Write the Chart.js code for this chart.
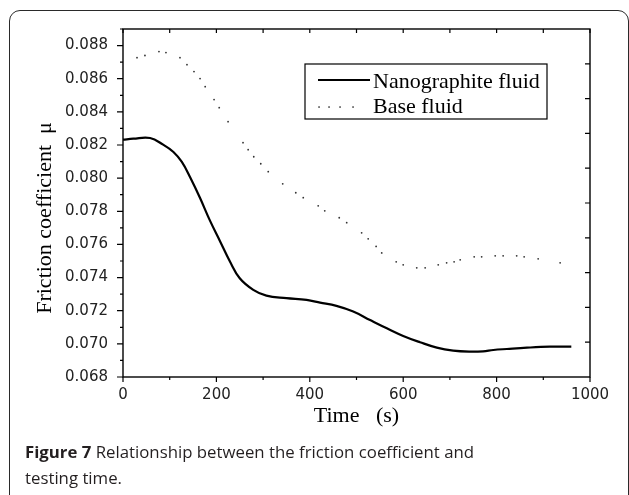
<!DOCTYPE html>
<html>
<head>
<meta charset="utf-8">
<script src="https://cdn.jsdelivr.net/npm/chart.js@4"></script>
<style>
  html, body { margin: 0; padding: 0; background: #fff; }
  body { width: 629px; height: 495px; position: relative; overflow: hidden; }
  #frame {
    position: absolute; left: 9px; top: 10px; width: 620px; height: 520px;
    border: 1.6px solid #2a2a2a; border-radius: 11px; box-sizing: border-box;
  }
  #wrap { position: absolute; left: 0; top: 0; width: 629px; height: 440px; }
  #caption {
    position: absolute; left: 25px; top: 439px; width: 470px;
    font-family: "Open Sans", sans-serif; font-size: 16.8px; line-height: 26px;
    color: #231f20;
  }
  #caption b { font-weight: 700; }
</style>
</head>
<body>
<div id="frame"></div>
<div id="wrap"><canvas id="frictionChart" width="629" height="440"></canvas></div>
<div id="caption"><b>Figure 7</b> Relationship between the friction coefficient and testing time.</div>
<script>
// time (s) / friction coefficient
const nanoTime = [0, 22, 58, 86, 108, 126, 144, 165, 186, 208, 229, 250, 279, 307, 350, 393, 422, 457, 493, 529, 565, 600, 636, 672, 707, 743, 771, 793, 822, 865, 914, 960];
const nanoMu = [0.08232, 0.08238, 0.08242, 0.08202, 0.08158, 0.08098, 0.08004, 0.0788, 0.07745, 0.07618, 0.07497, 0.07396, 0.07326, 0.07291, 0.07276, 0.07265, 0.07249, 0.07229, 0.07195, 0.07144, 0.07094, 0.07048, 0.0701, 0.06977, 0.06959, 0.06953, 0.06955, 0.06963, 0.06969, 0.06977, 0.06983, 0.06983];

const baseTime = [30, 47, 77, 92, 122, 137, 152, 165, 176, 195, 206, 225, 257, 268, 280, 295, 311, 342, 370, 386, 418, 432, 463, 479, 511, 525, 542, 554, 585, 600, 629, 647, 675, 693, 709, 722, 752, 768, 797, 814, 843, 859, 889, 936];
const baseMu = [0.08727, 0.0874, 0.08764, 0.08758, 0.08727, 0.08685, 0.08643, 0.08601, 0.08552, 0.08474, 0.08425, 0.08341, 0.08214, 0.08172, 0.08129, 0.08087, 0.08039, 0.07966, 0.07912, 0.07882, 0.07833, 0.07803, 0.07761, 0.07731, 0.0767, 0.07634, 0.07588, 0.07549, 0.07495, 0.07477, 0.07459, 0.07459, 0.07477, 0.07489, 0.07495, 0.07507, 0.07525, 0.07525, 0.07531, 0.07531, 0.07531, 0.07525, 0.07513, 0.07489];

const seriesLabels = ['Nanographite fluid', 'Base fluid'];
const xTitle = 'Time   (s)';
const yTitle = 'Friction coefficient  \u03bc';

const serif = '"Liberation Serif", "Times New Roman", serif';

// axis box, minor ticks, y title and the boxed legend
const frame = {
  id: 'frame',
  afterDraw(chart) {
    const {ctx, chartArea: a, scales: {x, y}} = chart;
    ctx.save();
    ctx.strokeStyle = '#000';
    ctx.lineWidth = 1.4;
    ctx.strokeRect(a.left, a.top, a.right - a.left, a.bottom - a.top);

    ctx.lineWidth = 1.2;
    ctx.beginPath();
    for (let t = 0; t <= 1000; t += 100) {
      const px = x.getPixelForValue(t);
      const len = t % 200 === 0 ? 5 : 3;
      ctx.moveTo(px, a.bottom); ctx.lineTo(px, a.bottom + len);
      ctx.moveTo(px, a.top); ctx.lineTo(px, a.top + 4);
    }
    for (let i = 0; i <= 21; i++) {
      const v = y.min + i * 0.001;
      const py = y.getPixelForValue(v);
      const len = i % 2 === 0 ? 6 : 3;
      ctx.moveTo(a.left, py); ctx.lineTo(a.left - len, py);
    }
    for (let i = 1; i < 10; i++) {
      const py = y.getPixelForValue(y.min + i * (y.max - y.min) / 10);
      ctx.moveTo(a.right, py); ctx.lineTo(a.right - 5, py);
    }
    ctx.stroke();

    // y title
    ctx.save();
    ctx.translate(45, 218);
    ctx.rotate(-Math.PI / 2);
    ctx.font = '22px ' + serif;
    ctx.fillStyle = '#000';
    ctx.textAlign = 'center';
    ctx.textBaseline = 'middle';
    ctx.fillText(yTitle, 0, 0);
    ctx.restore();

    // legend
    const lx = 305, ly = 64, lw = 242, lh = 55;
    ctx.fillStyle = '#fff';
    ctx.fillRect(lx, ly, lw, lh);
    ctx.lineWidth = 1.2;
    ctx.strokeStyle = '#000';
    ctx.strokeRect(lx, ly, lw, lh);
    ctx.font = '22px ' + serif;
    ctx.fillStyle = '#000';
    ctx.textBaseline = 'alphabetic';
    ctx.textAlign = 'left';
    const ds = chart.data.datasets;
    ctx.lineWidth = 2;
    ctx.beginPath();
    ctx.moveTo(318, 80); ctx.lineTo(370, 80);
    ctx.stroke();
    ctx.fillText(ds[0].label, 373, 88);
    ctx.fillStyle = '#333';
    [319, 329, 340, 353].forEach(px => ctx.fillRect(px - 0.7, 106.3, 1.5, 1.5));
    ctx.fillStyle = '#000';
    ctx.fillText(ds[1].label, 373, 113);
    ctx.restore();
  }
};

const ctx = document.getElementById('frictionChart').getContext('2d');
new Chart(ctx, {
  type: 'scatter',
  data: {
    datasets: [{
      label: seriesLabels[0],
      data: nanoTime.map((t, i) => ({x: t, y: nanoMu[i]})),
      showLine: true,
      borderColor: '#000',
      borderWidth: 2.2,
      pointRadius: 0,
      tension: 0.4
    }, {
      label: seriesLabels[1],
      data: baseTime.map((t, i) => ({x: t, y: baseMu[i]})),
      showLine: false,
      pointRadius: 0.9,
      pointBorderWidth: 0,
      backgroundColor: '#333',
      borderColor: '#333'
    }]
  },
  options: {
    responsive: false,
    animation: false,
    layout: {padding: {left: 0, right: 39, top: 29, bottom: 0}},
    plugins: {legend: {display: false}, tooltip: {enabled: false}},
    scales: {
      x: {
        type: 'linear',
        min: 0, max: 1000,
        afterFit: s => { s.height = 63; },
        grid: {display: false, drawTicks: false},
        border: {display: false},
        ticks: {
          stepSize: 200, padding: 9, color: '#222',
          font: {family: '"DejaVu Sans", sans-serif', size: 15},
          callback: v => String(v)
        },
        title: {
          display: true, text: xTitle, color: '#000',
          font: {family: serif, size: 22}, padding: {top: 0, bottom: 11}
        }
      },
      y: {
        type: 'linear',
        min: 0.068, max: 0.089,
        afterFit: s => { s.width = 123; },
        grid: {display: false, drawTicks: false},
        border: {display: false},
        ticks: {
          stepSize: 0.002, includeBounds: false, padding: 15, color: '#222',
          font: {family: '"DejaVu Sans", sans-serif', size: 15},
          callback: v => v.toFixed(3)
        }
      }
    }
  },
  plugins: [frame]
});
</script>
</body>
</html>
